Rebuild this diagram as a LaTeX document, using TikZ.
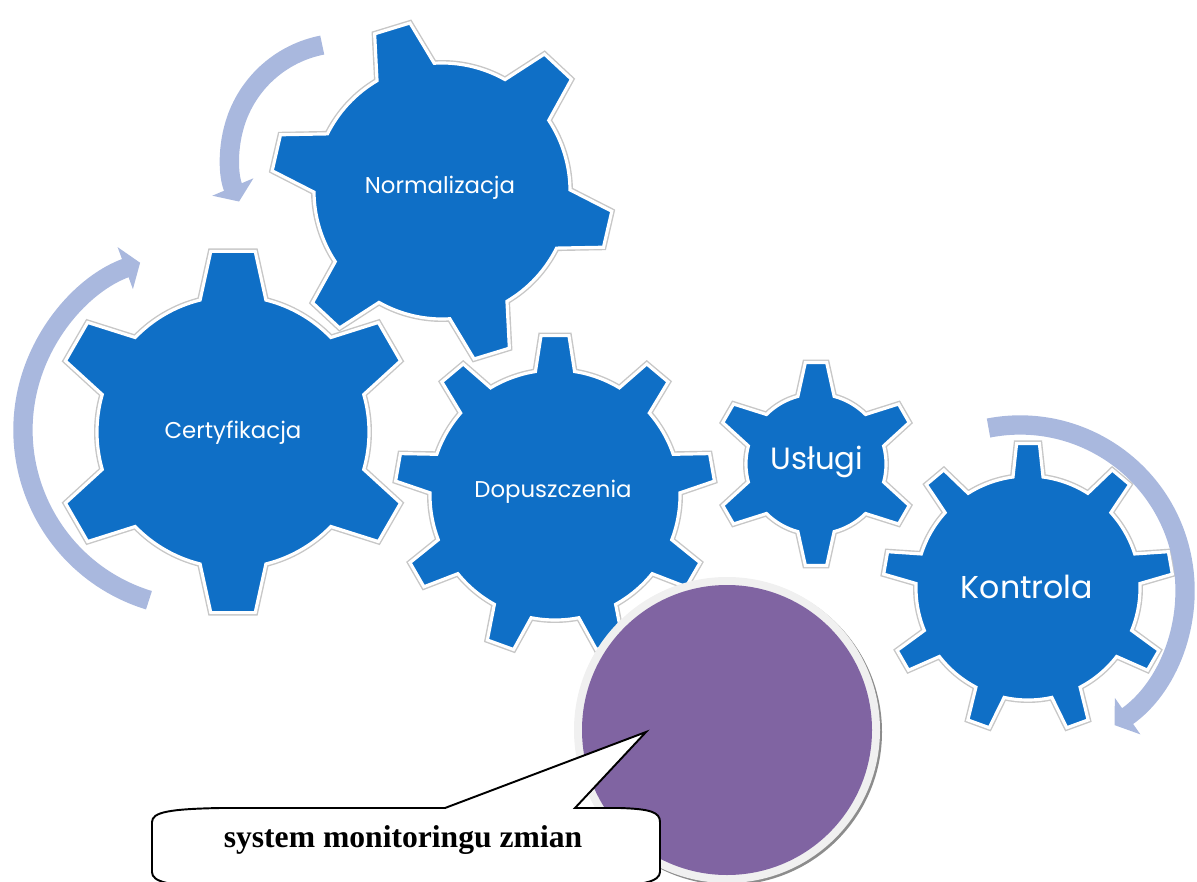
\documentclass[tikz,border=0pt]{standalone}
\usepackage{fontspec}
\setmainfont{Liberation Serif}
\newfontfamily\gearfont{Poppins}
\usepackage{tikz}
\usetikzlibrary{arrows.meta,calc}
\definecolor{gear-blue}{RGB}{15,111,198}
\definecolor{arrow-blue}{RGB}{169,184,222}
\definecolor{circle-purple}{RGB}{128,100,162}
\definecolor{ring-gray}{RGB}{240,240,240}
\tikzstyle{geared}=[fill=gear-blue, draw=white, line width=1.8pt, preaction={draw=black!22, line width=3.4pt}]
\tikzstyle{bendarrow}=[draw=arrow-blue, line width=11pt, -{Triangle[length=9pt,width=25pt]}]
\tikzstyle{gearlabel}=[text=white, inner sep=0pt]
\tikzstyle{callout}=[draw=black, line width=1.1pt, fill=white]
\newcommand{\gearNbox}[7]{
	\draw[geared] ($#1+(#5-#6:#3)$)
		\foreach \k [evaluate=\k as \tang using #5+(\k-1)*360/#2] in {1,...,#2} {
			-- ($#1+({\tang-#6}:#3)$) -- ($#1+({\tang-#7}:#4)$)
			-- ($#1+({\tang+#7}:#4)$) -- ($#1+({\tang+#6}:#3)$)
			arc[start angle={\tang+#6}, end angle={\tang+360/#2-#6}, radius=#3]
		} -- cycle;
}

\begin{document}
\begin{tikzpicture}[x=0.02cm, y=0.02cm]
	\useasboundingbox (0,0) rectangle (1197,-882);
	\clip (0,0) rectangle (1197,-882);
	\gearNbox{(233,-432)}{6}{136}{182}{30}{14}{7}
	\gearNbox{(555,-495)}{9}{125}{160}{90}{9}{5}
	\gearNbox{(442,-191)}{6}{128}{171}{47}{13.5}{6.2}
	\gearNbox{(816,-464)}{6}{70}{102}{90}{15}{6}
	\gearNbox{(1028,-588)}{9}{112}{145}{90}{7.7}{4.5}
	\node[gearlabel, font=\gearfont\fontsize{13}{15}\selectfont] (norm) at (440,-188) {Normalizacja};
	\node[gearlabel, font=\gearfont\fontsize{13}{15}\selectfont] (cert) at (233,-433) {Certyfikacja};
	\node[gearlabel, font=\gearfont\fontsize{13}{15}\selectfont] (dopu) at (553,-492) {Dopuszczenia};
	\node[gearlabel, font=\gearfont\fontsize{17.5}{20}\selectfont] (uslu) at (817,-462) {Usługi};
	\node[gearlabel, font=\gearfont\fontsize{18}{21}\selectfont] (kont) at (1027,-587) {Kontrola};
	\draw[bendarrow] ($(344,-157)+(101:114)$) arc[start angle=101, end angle=203, radius=114];
	\draw[bendarrow] ($(201,-430)+(253:178)$) arc[start angle=253, end angle=110, radius=178];
	\draw[bendarrow] ($(1020,-590)+(101:165)$) arc[start angle=101, end angle=-55, radius=165];
	\fill[black!45] (729,-732) circle (153);
	\fill[ring-gray] (727,-730) circle (153);
	\fill[circle-purple] (727,-730) circle (145);
	\draw[callout] (152,-872) -- (152,-822) .. controls (152,-812) and (170,-809) .. (220,-808)
		-- (445,-808) -- (646,-732) -- (575,-808) -- (620,-808)
		.. controls (650,-809) and (660,-812) .. (660,-822) -- (660,-872)
		.. controls (660,-882) and (640,-886) .. (600,-886) -- (210,-886)
		.. controls (170,-886) and (152,-882) .. cycle;
	\node[font=\bfseries\fontsize{18}{21}\selectfont] (calltext) at (403,-840) {system monitoringu zmian};
\end{tikzpicture}
\end{document}
